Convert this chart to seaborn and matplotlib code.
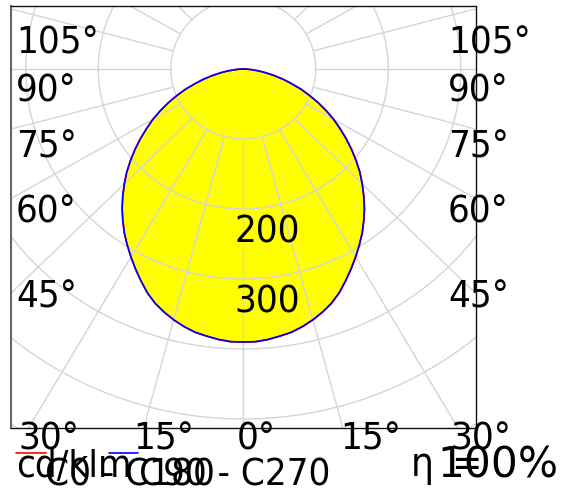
import numpy as np
import pandas as pd
import matplotlib
matplotlib.use("Agg")
import matplotlib.pyplot as plt
import seaborn as sns

# -------------------------
# data
# -------------------------

gamma = [0, 2.5, 5, 7.5, 10, 12.5, 15, 17.5, 20, 22.5, 25, 27.5, 30, 32.5, 35, 37.5,
         40, 42.5, 45, 47.5, 50, 52.5, 55, 57.5, 60, 62.5, 65, 67.5, 70, 72.5, 75,
         77.5, 80, 82.5, 85, 87.5, 90]
c0_c180 = [390, 390, 388, 385, 382, 377, 371, 364, 356, 346, 334, 322, 310, 298, 286, 273,
           260, 246, 232, 218, 203, 188, 173, 158, 144, 129, 114, 99, 85, 70, 57,
           44, 32, 22, 12, 5, 0]
c90_c270 = [390, 390, 388, 385, 382, 377, 371, 364, 356, 346, 334, 322, 310, 298, 286, 273,
            260, 246, 232, 218, 203, 188, 173, 158, 144, 129, 114, 99, 85, 70, 57,
            44, 32, 22, 12, 5, 0]

rings = [100, 200, 300, 400, 500, 600, 700]
ring_labels = ["200", "300"]
side_labels = ["105°", "90°", "75°", "60°", "45°"]
bottom_labels = ["30°", "15°", "0°", "15°", "30°"]

sns.set_style("white")
plt.rcParams["font.family"] = ["DejaVu Sans"]
plt.rcParams["text.color"] = "black"
FS = "condensed"

W, H = 567, 491
fig = plt.figure(figsize=(W / 100, H / 100), dpi=100)
ax = fig.add_axes([11 / W, 1 - 428 / H, 465 / W, (428 - 5.7) / H])


def curve(vals):
    g = np.radians(gamma)
    v = np.array(vals, dtype=float)
    x = np.concatenate([-(v * np.sin(g))[::-1], (v * np.sin(g))[1:]])
    y = np.concatenate([-(v * np.cos(g))[::-1], -(v * np.cos(g))[1:]])
    return pd.DataFrame({"x": x, "y": y})


d1 = curve(c0_c180)
d2 = curve(c90_c270)

ax.fill(d1["x"], d1["y"], color="#ffff00", zorder=1, lw=0)

# grid
t = np.linspace(0, 2 * np.pi, 721)
for r in rings:
    ax.plot(r * np.sin(t), r * np.cos(t), color="#d5d5d5", lw=1, zorder=2)
for a in np.radians(np.arange(0, 360, 15)):
    ax.plot([100 * np.sin(a), 1000 * np.sin(a)], [-100 * np.cos(a), -1000 * np.cos(a)],
            color="#d5d5d5", lw=1, zorder=2)

sns.lineplot(data=d1, x="x", y="y", sort=False, estimator=None, color="red", lw=1.2, ax=ax, zorder=3)
sns.lineplot(data=d2, x="x", y="y", sort=False, estimator=None, color="blue", lw=1.2, ax=ax, zorder=4)

for lab, r in zip(ring_labels, [200, 300]):
    ax.annotate(lab, xy=(0, -r), xytext=(-9, -6), textcoords="offset pixels",
                ha="left", va="top", fontsize=27.5, fontstretch=FS, zorder=5)

ax.set_xlim(-320.4, 321.0)
ax.set_ylim(-512.9, 90.4)
ax.set_xticks([])
ax.set_yticks([])
ax.set_xlabel("")
ax.set_ylabel("")
for s in ax.spines.values():
    s.set_color("#111111")
    s.set_linewidth(1)
ax.spines["left"].set_color("#666666")
ax.spines["left"].set_linewidth(1.5)


def ftext(px, py, s, **kw):
    kw.setdefault("fontsize", 27.5)
    kw.setdefault("fontstretch", FS)
    fig.text(px / W, 1 - py / H, s, va="baseline", **kw)


# angle labels
side_y = [53, 102, 157, 222, 308]
for lab, py in zip(side_labels, side_y):
    ftext(16, py, lab, ha="left")
    ftext(448, py, lab, ha="left")

bottom_x = [18, 133, 237, 340, 450]
for lab, px in zip(bottom_labels, bottom_x):
    ftext(px, 450, lab, ha="left")

# legend
fig.add_artist(plt.Line2D([16 / W, 46 / W], [1 - 453 / H] * 2, color="red", lw=1.2))
fig.add_artist(plt.Line2D([109 / W, 138 / W], [1 - 453 / H] * 2, color="blue", lw=1.2))
ftext(16, 477, "cd/klm", ha="left")
ftext(45, 486, "C0 - C180", ha="left")
ftext(139, 486, "C90 - C270", ha="left")

ftext(411, 476, "η", ha="left", fontsize=29)
ftext(451, 476, "=", ha="left", fontsize=29)
ftext(558, 478, "100%", ha="right", fontsize=30.5, fontstretch="normal")

plt.savefig("out.png", dpi=100)
